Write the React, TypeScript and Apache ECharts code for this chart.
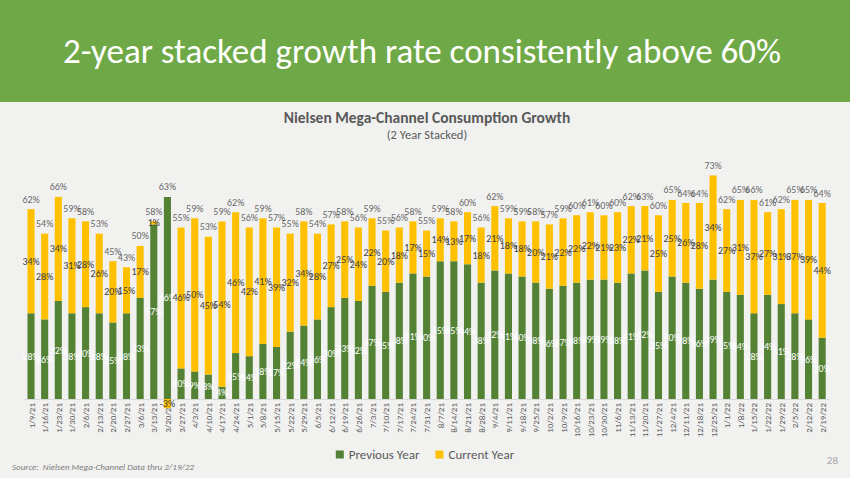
import React, { useEffect, useRef } from "react";
import * as echarts from "echarts";

const categories = [
  "1/9/21","1/16/21","1/23/21","1/30/21","2/6/21","2/13/21","2/20/21","2/27/21","3/6/21","3/13/21",
  "3/20/21","3/27/21","4/3/21","4/10/21","4/17/21","4/24/21","5/1/21","5/8/21","5/15/21","5/22/21",
  "5/29/21","6/5/21","6/12/21","6/19/21","6/26/21","7/3/21","7/10/21","7/17/21","7/24/21","7/31/21",
  "8/7/21","8/14/21","8/21/21","8/28/21","9/4/21","9/11/21","9/18/21","9/25/21","10/2/21","10/9/21",
  "10/16/21","10/23/21","10/30/21","11/6/21","11/13/21","11/20/21","11/27/21","12/4/21","12/11/21","12/18/21",
  "12/25/21","1/1/22","1/8/22","1/15/22","1/22/22","1/29/22","2/5/22","2/12/22","2/19/22",
];

const previousYear = [
  28, 26, 32, 28, 30, 28, 25, 28, 33, 57,
  66, 10, 9, 8, 4, 15, 14, 18, 17, 22,
  24, 26, 30, 33, 32, 37, 35, 38, 41, 40,
  45, 45, 44, 38, 42, 41, 40, 38, 36, 37,
  38, 39, 39, 38, 41, 42, 35, 40, 38, 36,
  39, 35, 34, 28, 34, 31, 28, 26, 20,
];

const currentYear = [
  34, 28, 34, 31, 28, 26, 20, 15, 17, 1,
  -3, 46, 50, 45, 54, 46, 42, 41, 39, 32,
  34, 28, 27, 25, 24, 22, 20, 18, 17, 15,
  14, 13, 17, 18, 21, 18, 18, 20, 21, 22,
  22, 22, 21, 23, 22, 21, 25, 25, 26, 28,
  34, 27, 31, 37, 27, 31, 37, 39, 44,
];

const totalLabels = [
  62, 54, 66, 59, 58, 53, 45, 43, 50, 58,
  63, 55, 59, 53, 59, 62, 56, 59, 57, 55,
  58, 54, 57, 58, 56, 59, 55, 56, 58, 55,
  59, 58, 60, 56, 62, 59, 59, 58, 57, 59,
  60, 61, 60, 60, 62, 63, 60, 65, 64, 64,
  73, 62, 65, 66, 61, 62, 65, 65, 64,
];

const FONT = "Carlito, Lato, 'Liberation Sans', sans-serif";

export default function App() {
  const ref = useRef<HTMLDivElement>(null);

  useEffect(() => {
    if (!ref.current) return;
    const chart = echarts.init(ref.current, undefined, { renderer: "svg" });
    const stackTops = categories.map(
      (_, i) => previousYear[i] + Math.max(currentYear[i], 0)
    );
    chart.setOption({
      animation: false,
      backgroundColor: "#f1f1f0",
      textStyle: { fontFamily: FONT },
      graphic: [
        {
          type: "rect",
          shape: { x: 0, y: 0, width: 850, height: 102 },
          style: { fill: "#6fa947" },
          silent: true,
        },
        {
          type: "text",
          x: 63,
          y: 51,
          style: {
            text: "2-year stacked growth rate consistently above 60%",
            fill: "#ffffff",
            font: `35px ${FONT}`,
            textVerticalAlign: "middle",
          },
        },
        {
          type: "text",
          x: 427,
          y: 117,
          style: {
            text: "Nielsen Mega-Channel Consumption Growth",
            fill: "#595959",
            font: `bold 15.5px ${FONT}`,
            textAlign: "center",
            textVerticalAlign: "middle",
          },
        },
        {
          type: "text",
          x: 427,
          y: 134,
          style: {
            text: "(2 Year Stacked)",
            fill: "#595959",
            font: `12.5px ${FONT}`,
            textAlign: "center",
            textVerticalAlign: "middle",
          },
        },
        {
          type: "text",
          x: 12,
          y: 466,
          style: {
            text: "Source:  Nielsen Mega-Channel Data thru 2/19/22",
            fill: "#7f7f7f",
            font: `italic 9px ${FONT}`,
            textVerticalAlign: "middle",
          },
        },
        {
          type: "text",
          x: 838,
          y: 460,
          style: {
            text: "28",
            fill: "#a6a6a6",
            font: `11px ${FONT}`,
            textAlign: "right",
            textVerticalAlign: "middle",
          },
        },
      ],
      legend: {
        data: ["Previous Year", "Current Year"],
        left: "center",
        top: 443,
        icon: "rect",
        itemWidth: 8,
        itemHeight: 8,
        itemGap: 16,
        textStyle: { color: "#595959", fontSize: 13, fontFamily: FONT },
      },
      grid: { left: 24.2, right: 21, top: 154, bottom: 79 },
      xAxis: {
        type: "category",
        data: categories,
        axisLine: { lineStyle: { color: "#d9d9d9" } },
        axisTick: { show: false },
        axisLabel: {
          interval: 0,
          rotate: 90,
          fontSize: 9,
          color: "#595959",
          margin: 4,
          fontFamily: FONT,
        },
      },
      yAxis: {
        type: "value",
        min: 0,
        max: 80,
        show: false,
        splitLine: { show: false },
      },
      series: [
        {
          name: "Previous Year",
          type: "bar",
          stack: "growth",
          data: previousYear,
          barCategoryGap: "48%",
          clip: false,
          itemStyle: { color: "#548235" },
          label: {
            show: true,
            position: "inside",
            color: "#ffffff",
            fontSize: 10,
            fontFamily: FONT,
            formatter: "{c}%",
          },
        },
        {
          name: "Current Year",
          type: "bar",
          stack: "growth",
          data: currentYear,
          clip: false,
          itemStyle: { color: "#ffc000" },
          label: {
            show: true,
            position: "inside",
            color: "#404040",
            fontSize: 10,
            fontFamily: FONT,
            formatter: "{c}%",
          },
        },
        {
          name: "Total",
          type: "scatter",
          data: stackTops,
          symbolSize: 0,
          silent: true,
          label: {
            show: true,
            position: "top",
            distance: 5,
            color: "#404040",
            fontSize: 10,
            fontFamily: FONT,
            formatter: (p: any) => `${totalLabels[p.dataIndex]}%`,
          },
        },
      ],
    });
    return () => chart.dispose();
  }, []);

  return (
    <div
      ref={ref}
      style={{ position: "absolute", left: 0, top: 0, width: 850, height: 478 }}
    />
  );
}
